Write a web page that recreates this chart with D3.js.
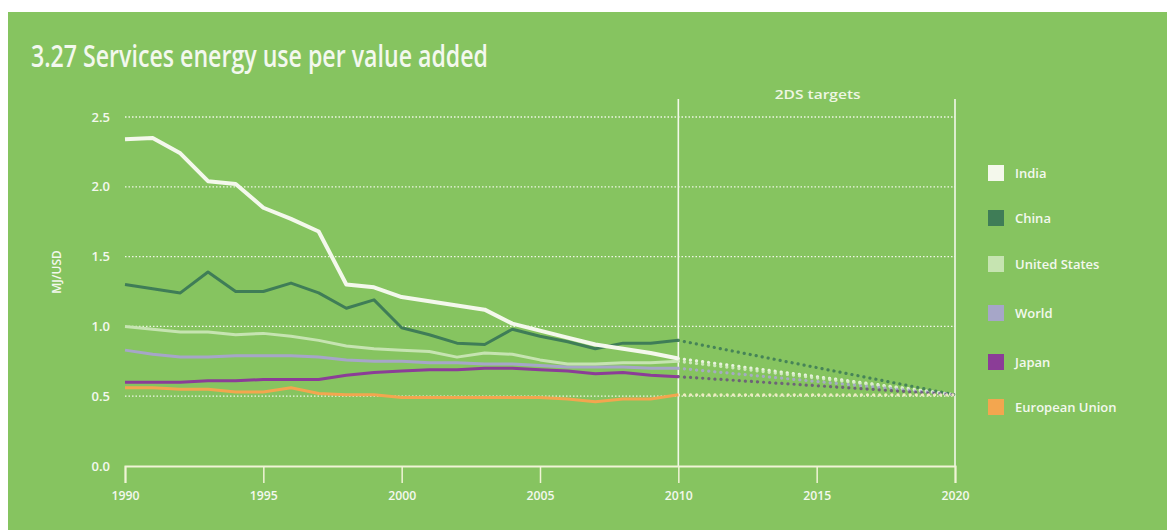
<!DOCTYPE html>
<html>
<head>
<meta charset="utf-8">
<script src="https://cdn.jsdelivr.net/npm/d3@7"></script>
<style>
  html, body { margin: 0; padding: 0; background: #ffffff; }
  svg { display: block; }
  text { font-family: "Open Sans", "Noto Sans", sans-serif; }
</style>
</head>
<body>
<svg id="chart" width="1167" height="530"></svg>
<script>
// ---- data ----
const years = [1990,1991,1992,1993,1994,1995,1996,1997,1998,1999,2000,2001,2002,2003,2004,2005,2006,2007,2008,2009,2010];
const india = [2.34,2.35,2.24,2.04,2.02,1.85,1.77,1.68,1.30,1.28,1.21,1.18,1.15,1.12,1.02,0.97,0.92,0.87,0.84,0.81,0.77];
const china = [1.30,1.27,1.24,1.39,1.25,1.25,1.31,1.24,1.13,1.19,0.99,0.94,0.88,0.87,0.98,0.93,0.89,0.84,0.88,0.88,0.90];
const unitedStates = [1.00,0.98,0.96,0.96,0.94,0.95,0.93,0.90,0.86,0.84,0.83,0.82,0.78,0.81,0.80,0.76,0.73,0.73,0.74,0.74,0.75];
const world = [0.83,0.80,0.78,0.78,0.79,0.79,0.79,0.78,0.76,0.75,0.75,0.74,0.74,0.73,0.73,0.72,0.71,0.71,0.71,0.70,0.70];
const japan = [0.60,0.60,0.60,0.61,0.61,0.62,0.62,0.62,0.65,0.67,0.68,0.69,0.69,0.70,0.70,0.69,0.68,0.66,0.67,0.65,0.64];
const europeanUnion = [0.56,0.56,0.55,0.55,0.53,0.53,0.56,0.52,0.51,0.51,0.49,0.49,0.49,0.49,0.49,0.49,0.48,0.46,0.48,0.48,0.51];
const targetYears = [2010, 2020];
const target2020 = 0.51;
const xTicks = [1990,1995,2000,2005,2010,2015,2020];
const yTicks = [0,0.5,1.0,1.5,2.0,2.5];
const seriesNames = ["India","China","United States","World","Japan","European Union"];
const seriesValues = [india, china, unitedStates, world, japan, europeanUnion];
const seriesColors = ["#f4f8ec","#3f7d57","#c6e4b1","#a6a6c8","#8b3d97","#f3a64f"];
const seriesWidths = [4,3,3,3,3,3];
const projColors = ["#f4f8ec","#3f7d57","#d6ecc6","#a8a8cc","#6a5a7a","#f6f0c8"];

// ---- layout ----
const svg = d3.select("#chart");
const bg = "#86c460";
svg.append("rect").attr("x",8).attr("y",12).attr("width",1159).attr("height",518).attr("fill",bg);

const x = d3.scaleLinear().domain([1990,2020]).range([125,955]);
const y = d3.scaleLinear().domain([0,2.5]).range([466,117]);

// title
svg.append("text").attr("x",31).attr("y",67)
  .attr("font-size",30).attr("font-weight",600).attr("fill","#f3f8ee")
  .attr("textLength",457).attr("lengthAdjust","spacingAndGlyphs")
  .text("3.27 Services energy use per value added");

// gridlines (dotted)
svg.append("g").selectAll("line").data(yTicks.filter(d=>d>0)).join("line")
  .attr("x1",x(1990)).attr("x2",x(2020))
  .attr("y1",d=>y(d)).attr("y2",d=>y(d))
  .attr("stroke","#eef6e4").attr("stroke-width",1.3)
  .attr("stroke-dasharray","1.5,2");

// vertical target lines
svg.append("g").selectAll("line").data(targetYears).join("line")
  .attr("x1",d=>x(d)).attr("x2",d=>x(d))
  .attr("y1",99).attr("y2",y(0))
  .attr("stroke","#f3f8ea").attr("stroke-width",1.6);

svg.append("text").attr("x",(x(2010)+x(2020))/2 + 1).attr("y",99)
  .attr("text-anchor","middle").attr("font-size",12).attr("font-weight",600).attr("fill","#eef6e4")
  .attr("textLength",86).attr("lengthAdjust","spacingAndGlyphs")
  .text("2DS targets");

// x axis
const xAxis = svg.append("g").attr("transform",`translate(0,${y(0)})`)
  .call(d3.axisBottom(x).tickValues(xTicks).tickFormat(d3.format("d")).tickSize(17).tickPadding(8));
xAxis.select(".domain").attr("stroke","#f0f4d6").attr("stroke-width",2);
xAxis.selectAll(".tick line").attr("stroke","#f0f4d6").attr("stroke-width",1.5);
xAxis.selectAll(".tick text").attr("fill","#f3f8ee").attr("font-size",13).attr("font-weight",600)
  .attr("font-family","'Open Sans', sans-serif")
  .attr("textLength",28).attr("lengthAdjust","spacingAndGlyphs");

// y axis
const yAxis = svg.append("g").attr("transform",`translate(${x(1990)},0)`)
  .call(d3.axisLeft(y).tickValues(yTicks).tickFormat(d3.format(".1f")).tickSize(0).tickPadding(15));
yAxis.select(".domain").remove();
yAxis.selectAll(".tick text").attr("fill","#f3f8ee").attr("font-size",13).attr("font-weight",600)
  .attr("font-family","'Open Sans', sans-serif");

svg.append("text").attr("transform","translate(61,272) rotate(-90)")
  .attr("text-anchor","middle").attr("font-size",12).attr("font-weight",600).attr("fill","#f3f8ee")
  .text("MJ/USD");

// projection dotted lines
const line = d3.line().x(d=>x(d[0])).y(d=>y(d[1]));
seriesValues.forEach((vals,i)=>{
  const last = vals[vals.length-1];
  svg.append("path")
    .attr("d", line([[2010,last],[2020,target2020]]))
    .attr("fill","none").attr("stroke",projColors[i]).attr("stroke-width",3.2)
    .attr("stroke-linecap","round").attr("stroke-dasharray","0.1,6")
    .attr("opacity",0.9);
});

// series lines: draw in reverse order so India is on top
for (let i = seriesValues.length-1; i >= 0; i--) {
  const pts = years.map((yr,j)=>[yr, seriesValues[i][j]]);
  svg.append("path").attr("d", line(pts))
    .attr("fill","none").attr("stroke",seriesColors[i])
    .attr("stroke-width",seriesWidths[i]).attr("stroke-linejoin","round");
}

// legend
const legendY = [173,218,264,313,362,407];
const lg = svg.append("g").selectAll("g").data(seriesNames).join("g")
  .attr("transform",(d,i)=>`translate(988,${legendY[i]})`);
lg.append("rect").attr("x",0).attr("y",-8).attr("width",16).attr("height",16)
  .attr("fill",(d,i)=>seriesColors[i]);
lg.append("text").attr("x",27).attr("y",5).attr("font-size",13).attr("font-weight",600)
  .attr("fill","#f3f8ee").text(d=>d);
</script>
</body>
</html>
